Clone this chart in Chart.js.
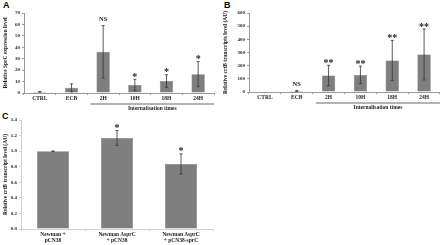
<!DOCTYPE html>
<html><head><meta charset="utf-8">
<script src="https://cdn.jsdelivr.net/npm/chart.js@4/dist/chart.umd.min.js"></script>
<style>
html,body{margin:0;padding:0;background:#fff;width:440px;height:245px;overflow:hidden;position:relative}
.cv{position:absolute}
.lab{position:absolute;font:bold 9px "Liberation Sans",Arial,sans-serif;color:#000}
</style></head><body>
<div class="lab" style="left:3px;top:0px">A</div>
<div class="lab" style="left:224px;top:0px">B</div>
<div class="lab" style="left:2px;top:111px">C</div>
<div class="cv" style="left:0;top:0;width:220px;height:118px"><canvas id="cA"></canvas></div>
<div class="cv" style="left:220px;top:0;width:220px;height:118px"><canvas id="cB"></canvas></div>
<div class="cv" style="left:0;top:110px;width:225px;height:135px"><canvas id="cC"></canvas></div>
<script>
// ---- data ----
const timeCategories = ["CTRL","ECB","2H","10H","18H","24H"];
const sprcValues = [1, 4.5, 36, 7, 10.5, 16.5];
const sprcErrors = [0.3, 3.5, 23, 5, 5.5, 11];
const sprcMarks = ["", "", "NS", "*", "*", "*"];
const crtbValues = [0, 8, 125, 130, 240, 285];
const crtbErrors = [0, 4, 78, 66, 152, 194];
const crtbMarks = ["", "NS", "**", "**", "**", "**"];
const strainCategories = [["Newman +","pCN38"],["Newman \u0394sprC","+ pCN38"],["Newman \u0394sprC","+ pCN38-sprC"]];
const strainValues = [1.0, 1.17, 0.835];
const strainErrors = [0.003, 0.095, 0.13];
const strainMarks = ["", "*", "*"];
const groupLabel = "Internalisation times";

const SERIF = '"Liberation Serif","Times New Roman",serif';
const BAR = '#7f7f7f';

const errPlugin = {
  id: 'errs',
  afterDatasetsDraw(chart) {
    const ds = chart.data.datasets[0];
    const meta = chart.getDatasetMeta(0);
    const ys = chart.scales.y;
    const ctx = chart.ctx;
    const cfg = chart.options.plugins.errs || {};
    ctx.save();
    meta.data.forEach((bar, i) => {
      const v = ds.data[i], e = ds.errors[i];
      const yt = ys.getPixelForValue(v + e), yb = ys.getPixelForValue(Math.max(v - e, 0));
      ctx.strokeStyle = '#333';
      ctx.lineWidth = 0.8;
      if (e > 0) {
        ctx.beginPath();
        ctx.moveTo(bar.x, yt); ctx.lineTo(bar.x, yb);
        ctx.moveTo(bar.x - 1.5, yt); ctx.lineTo(bar.x + 1.5, yt);
        ctx.moveTo(bar.x - 1.5, yb); ctx.lineTo(bar.x + 1.5, yb);
        ctx.stroke();
      }
      const m = ds.marks[i];
      if (m) {
        ctx.fillStyle = '#222';
        ctx.textAlign = 'center';
        ctx.textBaseline = 'bottom';
        if (m === 'NS') {
          ctx.font = 'bold 6.5px ' + SERIF;
          ctx.fillText(m, bar.x, yt - 3);
        } else {
          ctx.font = 'bold 10px ' + SERIF;
          ctx.fillText(m, bar.x, yt + 3);
        }
      }
    });
    if (cfg.group) {
      const xs = chart.scales.x;
      const x0 = xs.getPixelForValue(cfg.group[0]) , x1 = xs.getPixelForValue(cfg.group[1]);
      const y = chart.chartArea.bottom + 11;
      ctx.strokeStyle = '#9a9a9a';
      ctx.lineWidth = 1.5;
      ctx.beginPath(); ctx.moveTo(x0, y); ctx.lineTo(x1, y); ctx.stroke();
      ctx.fillStyle = '#222';
      ctx.font = 'bold 5.5px ' + SERIF;
      ctx.textAlign = 'center'; ctx.textBaseline = 'top';
      ctx.fillText(groupLabel, (x0 + x1) / 2, y + 1.5);
    }
    ctx.restore();
  }
};

function makeChart(id, labels, values, errors, marks, opts) {
  return new Chart(document.getElementById(id), {
    type: 'bar',
    data: { labels, datasets: [{ data: values, errors, marks,
      backgroundColor: BAR, borderColor: '#6c6c6c', borderWidth: 0.5,
      barPercentage: opts.barPct, categoryPercentage: 1 }] },
    options: {
      responsive: true, maintainAspectRatio: false, animation: false,
      devicePixelRatio: 1,
      layout: { padding: opts.padding },
      plugins: { legend: { display: false }, tooltip: { enabled: false }, errs: { group: opts.group } },
      scales: {
        x: {
          afterFit: s => { s.height = opts.xh; },
          grid: { drawOnChartArea: false, tickLength: 2, color: opts.axisColor },
          border: { color: opts.axisColor, width: 1 },
          ticks: { color: '#222', padding: 1, font: { family: SERIF, size: 5.5, weight: 'bold', lineHeight: 1.05 }, maxRotation: 0, autoSkip: false }
        },
        y: {
          min: 0, max: opts.max,
          afterFit: s => { s.width = opts.yw; },
          grid: { drawOnChartArea: false, tickLength: 2, color: opts.axisColor },
          border: { color: opts.axisColor, width: 1 },
          ticks: { stepSize: opts.step, color: '#222', padding: 2, font: { family: SERIF, size: 5, weight: 'bold' },
            callback: v => opts.dec ? v.toFixed(opts.dec) : v },
          title: { display: true, text: opts.ytitle, color: '#222', padding: { top: 2, bottom: 0 },
            font: { family: SERIF, size: 5.5, weight: 'bold' } }
        }
      }
    },
    plugins: [errPlugin]
  });
}

makeChart('cA', timeCategories, sprcValues, sprcErrors, sprcMarks, {
  max: 70, step: 10, yw: 24, xh: 25, padding: { left: 0, top: 13, right: 6, bottom: 0 },
  ytitle: 'Relative SprC expression level', barPct: 0.42, axisColor: '#9a9a9a', group: [1.6, 5.5]
});
makeChart('cB', timeCategories, crtbValues, crtbErrors, crtbMarks, {
  max: 600, step: 100, yw: 29, xh: 26, padding: { left: 0, top: 13, right: 0, bottom: 0 },
  ytitle: 'Relative crtB transcripts level (AU)', barPct: 0.42, axisColor: '#9a9a9a', group: [1.6, 5.5]
});
makeChart('cC', strainCategories, strainValues, strainErrors, strainMarks, {
  max: 1.4, step: 0.2, dec: 1, yw: 21, xh: 16, padding: { left: 0, top: 10, right: 12, bottom: 0 },
  ytitle: 'Relative crtB transcript level (AU)', barPct: 0.5, axisColor: '#d0d0d0', group: null
});
</script>
</body></html>
